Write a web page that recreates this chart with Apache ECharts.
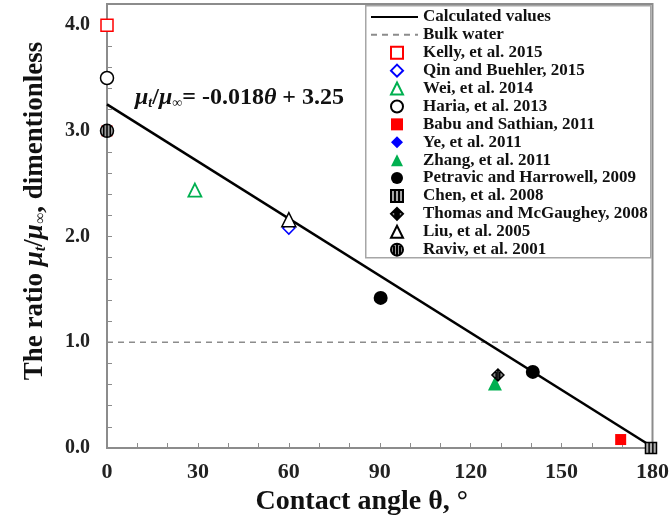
<!DOCTYPE html>
<html><head><meta charset="utf-8">
<script src="https://cdn.jsdelivr.net/npm/echarts@6/dist/echarts.min.js"></script>
<style>html,body{margin:0;padding:0;background:#fff}#c{width:672px;height:524px}</style>
</head><body><div id="c"></div>
<script>
// Fit line endpoints and bulk water reference
const calcX = [0, 180];
const calcY = [3.25, 0.01];
const bulkX = [0, 180];
const bulkY = [1.0, 1.0];
// Data points [theta, ratio]
const kelly = [[0, 4.0]];
const qin = [[60, 2.08]];
const wei = [[29, 2.44]];
const haria = [[0, 3.5]];
const babu = [[0, 3.0], [169.5, 0.08]];
const ye = [[129, 0.69]];
const zhang = [[128, 0.61]];
const petravic = [[90.3, 1.42], [140.5, 0.72]];
const chen = [[179.5, 0.0]];
const thomas = [[129, 0.69]];
const liu = [[60, 2.16]];
const raviv = [[0, 3.0]];
const xTicks = [0, 30, 60, 90, 120, 150, 180];
const yTicks = [0, 1, 2, 3, 4];
const lineNames = ['Calculated values', 'Bulk water'];
const pointNames = ['Kelly, et al. 2015', 'Qin and Buehler, 2015', 'Wei, et al. 2014',
  'Haria, et al. 2013', 'Babu and Sathian, 2011', 'Ye, et al. 2011', 'Zhang, et al. 2011',
  'Petravic and Harrowell, 2009', 'Chen, et al. 2008', 'Thomas and McGaughey, 2008', 'Liu, et al. 2005', 'Raviv, et al. 2001'];

const F = '"Liberation Serif","Times New Roman",serif';
const green = '#00b050';
const pair = (xs, ys) => xs.map((x, i) => [x, ys[i]]);

const sqStripe = 'path://M0,0H10V10H0Z M3.3,0V10 M6.7,0V10';
const diaStripe = 'path://M5,0L10,5L5,10L0,5Z M3.5,1.5V8.5 M5,0V10 M6.5,1.5V8.5';
const cirStripe = 'path://M0,5A5,5 0 1,0 10,5A5,5 0 1,0 0,5Z M2.5,1V9 M5,0V10 M7.5,1V9';

function sc(name, data, symbol, size, fill, border, bw, z) {
  return {
    name, type: 'scatter', data, symbol, symbolSize: size, z: z || 3,
    itemStyle: { color: fill, borderColor: border, borderWidth: bw, opacity: 1 }
  };
}

const ROW = 17.9;
const legendText = { fontFamily: F, fontWeight: 'bold', fontSize: 17, color: '#111', lineHeight: ROW };

const chart = echarts.init(document.getElementById('c'), null, { renderer: 'canvas' });
chart.setOption({
  animation: false,
  backgroundColor: '#fff',
  grid: { left: 107, right: 19, top: 4, bottom: 76, show: true, borderColor: '#8c8c8c', borderWidth: 2 },
  xAxis: {
    type: 'value', min: 0, max: 180, interval: 30,
    name: 'Contact angle θ, °', nameLocation: 'middle', nameGap: 33,
    nameTextStyle: { fontFamily: F, fontWeight: 'bold', fontSize: 28, color: '#111', padding: [0, 36, 0, 0] },
    axisLine: { lineStyle: { color: '#8c8c8c', width: 2 } },
    axisTick: { inside: true, length: 5, lineStyle: { color: '#8c8c8c' } },
    minorTick: { show: true, splitNumber: 3, length: 5, lineStyle: { color: '#8c8c8c' } },
    splitLine: { show: false },
    axisLabel: { fontFamily: F, fontWeight: 'bold', fontSize: 22, color: '#222', margin: 13,
      formatter: v => xTicks.includes(v) ? String(v) : '' }
  },
  yAxis: {
    type: 'value', min: 0, max: 4.2, interval: 1,
    name: '{n|The ratio }{i|μ}{s|t}{n|/}{i|μ}{s|∞}{n|, dimentionless}',
    nameLocation: 'middle', nameGap: 58,
    nameTextStyle: {
      padding: [0, 0, 0, 30],
      rich: {
        n: { fontFamily: F, fontWeight: 'bold', fontSize: 27, color: '#111' },
        i: { fontFamily: F, fontWeight: 'bold', fontStyle: 'italic', fontSize: 27, color: '#111' },
        s: { fontFamily: F, fontWeight: 'bold', fontStyle: 'italic', fontSize: 16, color: '#111', verticalAlign: 'bottom', padding: [10, 0, 0, 0] }
      }
    },
    axisLine: { show: true, lineStyle: { color: '#8c8c8c', width: 2 } },
    axisTick: { show: true, inside: true, length: 5, lineStyle: { color: '#8c8c8c' } },
    minorTick: { show: true, splitNumber: 5, length: 5, lineStyle: { color: '#8c8c8c' } },
    splitLine: { show: false },
    axisLabel: { fontFamily: F, fontWeight: 'bold', fontSize: 20, color: '#222', margin: 17, showMaxLabel: false,
      formatter: v => yTicks.includes(v) ? v.toFixed(1) : '' }
  },
  legend: [{
    orient: 'vertical', left: 370, top: 8, padding: 0,
    itemWidth: 47, itemHeight: 12, itemGap: 0,
    textStyle: legendText,
    data: lineNames
  }, {
    orient: 'vertical', left: 390, top: 8 + 2 * ROW, padding: 0,
    itemWidth: 12, itemHeight: 12, itemGap: 0,
    textStyle: Object.assign({}, legendText, { padding: [0, 0, 0, 15] }),
    data: pointNames
  }],
  graphic: [{
    type: 'rect', left: 365, top: 5, z: 0,
    shape: { width: 285, height: 252 },
    style: { fill: '#fff', stroke: '#a6a6a6', lineWidth: 1.5 }
  }, {
    type: 'text', left: 135, top: 86, z: 10,
    style: {
      text: '{i|μ}{s|t}{n|/}{i|μ}{s|∞}{n|= -0.018}{i|θ}{n| + 3.25}',
      rich: {
        n: { fontFamily: F, fontWeight: 'bold', fontSize: 24, fill: '#111' },
        i: { fontFamily: F, fontWeight: 'bold', fontStyle: 'italic', fontSize: 24, fill: '#111' },
        s: { fontFamily: F, fontWeight: 'bold', fontStyle: 'italic', fontSize: 14, fill: '#111', verticalAlign: 'bottom', padding: [11, 0, 0, 0] }
      }
    }
  }],
  series: [
    { name: 'Calculated values', type: 'line', data: pair(calcX, calcY), symbol: 'none', z: 2,
      lineStyle: { color: '#000', width: 2.5 }, itemStyle: { color: 'rgba(0,0,0,0)', borderWidth: 0 } },
    { name: 'Bulk water', type: 'line', data: pair(bulkX, bulkY), symbol: 'none', z: 1,
      lineStyle: { color: '#8c8c8c', width: 1.5, type: [6, 5] }, itemStyle: { color: 'rgba(0,0,0,0)', borderWidth: 0 } },
    sc('Babu and Sathian, 2011', babu, 'rect', 11, '#ff0000', '#ff0000', 0, 3),
    sc('Kelly, et al. 2015', kelly, 'rect', 12, '#fff', '#ff0000', 1.5, 4),
    sc('Qin and Buehler, 2015', qin, 'diamond', 12, '#fff', '#0000ff', 1.5, 4),
    sc('Wei, et al. 2014', wei, 'triangle', 13, '#fff', green, 1.8, 4),
    sc('Haria, et al. 2013', haria, 'circle', 13, '#fff', '#000', 1.5, 4),
    sc('Ye, et al. 2011', ye, 'diamond', 9, '#0000ff', '#0000ff', 0, 3),
    sc('Zhang, et al. 2011', zhang, 'triangle', 14, green, green, 0, 4),
    sc('Petravic and Harrowell, 2009', petravic, 'circle', 14, '#000', '#000', 0, 5),
    sc('Chen, et al. 2008', chen, sqStripe, 11, '#aaa', '#000', 1.5, 6),
    sc('Thomas and McGaughey, 2008', thomas, diaStripe, 12, '#888', '#000', 1.5, 6),
    sc('Liu, et al. 2005', liu, 'triangle', 14, '#fff', '#000', 1.5, 5),
    sc('Raviv, et al. 2001', raviv, cirStripe, 13, '#999', '#000', 1.5, 6)
  ]
});
</script></body></html>
